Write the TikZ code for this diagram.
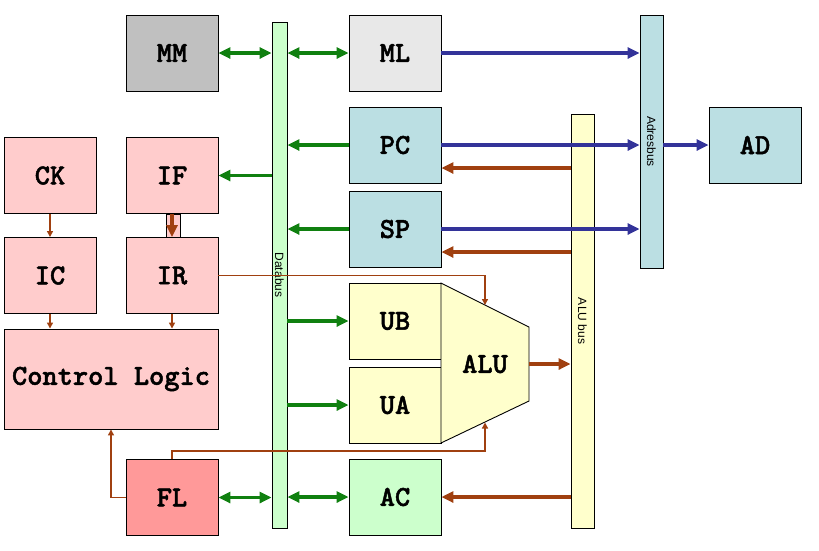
\documentclass[tikz,border=0pt]{standalone}
\usepackage{fontspec}
\setsansfont{Liberation Sans}
\newfontfamily\boxfont[FakeBold=1.6]{lmmonolt10-bold.otf}
\usetikzlibrary{arrows.meta}
\definecolor{gr}{RGB}{16,128,16}
\definecolor{bl}{RGB}{51,51,153}
\definecolor{br}{RGB}{160,64,16}
\definecolor{mmgray}{RGB}{192,192,192}
\definecolor{mlgray}{RGB}{232,232,232}
\definecolor{lblue}{RGB}{187,223,227}
\definecolor{lpink}{RGB}{255,204,204}
\definecolor{dpink}{RGB}{255,153,153}
\definecolor{lgreen}{RGB}{204,255,204}
\definecolor{lyel}{RGB}{255,255,204}
\tikzset{
  box/.style={draw=black, line width=0.9pt, minimum width=92pt, minimum height=76pt, inner sep=0pt, font=\fontsize{29}{29}\selectfont\boxfont},
  bus/.style={draw=black, line width=0.9pt, inner sep=0pt},
  buslabel/.style={rotate=-90, font=\fontsize{12}{12}\selectfont\sffamily},
  garr/.style={draw=gr, line width=3.5pt, -{Triangle[length=12pt,width=11pt]}},
  gdbl/.style={draw=gr, line width=3.5pt, {Triangle[length=12pt,width=11pt]}-{Triangle[length=12pt,width=11pt]}},
  barr/.style={draw=bl, line width=3.8pt, -{Triangle[length=12pt,width=11pt]}},
  rarr/.style={draw=br, line width=3.8pt, -{Triangle[length=12pt,width=11pt]}},
  tarr/.style={draw=br, line width=1.4pt, -{Triangle[length=6pt,width=6pt]}},
}
\begin{document}
\begin{tikzpicture}[x=1pt,y=-1pt]
\useasboundingbox (0,0) rectangle (819,550);
% buses
\node[bus, fill=lgreen, minimum width=15pt, minimum height=506pt] (db) at (279.5,275) {};
\node[buslabel] (dbl) at (db.center) {Databus};
\node[bus, fill=lblue, minimum width=23pt, minimum height=253pt] (ab) at (651.5,141.5) {};
\node[buslabel] (abl) at (ab.center) {Adresbus};
\node[bus, fill=lyel, minimum width=23pt, minimum height=414pt] (alub) at (582.5,321) {};
\node[buslabel] (alubl) at (alub.center) {ALU bus};
% boxes
\node[box, fill=mmgray] (mm) at (172,53) {MM};
\node[box, fill=mlgray] (ml) at (395,53) {ML};
\node[box, fill=lblue] (pc) at (395,145) {PC};
\node[box, fill=lblue] (sp) at (395,229) {SP};
\node[box, fill=lyel] (ub) at (395,321) {UB};
\node[box, fill=lyel] (ua) at (395,405) {UA};
\node[box, fill=lgreen] (ac) at (395,497) {AC};
\node[box, fill=lpink] (ck) at (50,175.5) {CK};
\node[box, fill=lpink] (if) at (172,175.5) {IF};
\node[box, fill=lpink] (ic) at (50,275.5) {IC};
\node[box, fill=lpink] (ir) at (172,275.5) {IR};
\node[box, fill=lpink, minimum width=214pt, minimum height=100pt] (cl) at (111,379) {Control Logic};
\node[box, fill=dpink] (fl) at (172,497.5) {FL};
\node[box, fill=lblue] (ad) at (755,145) {AD};
% ALU
\coordinate (alu1) at (441,283);
\coordinate (alu2) at (529,327);
\coordinate (alu3) at (529,401);
\coordinate (alu4) at (441,443);
\draw[line width=0.9pt, fill=lyel] (alu1) -- (alu2) -- (alu3) -- (alu4) -- cycle;
\node[font=\fontsize{29}{29}\selectfont\boxfont] (alu) at (485,364) {ALU};
\coordinate (aluout) at (529,364);
\coordinate (alutop) at (485,305);
\coordinate (alubot) at (485,422.5);
% IF-IR link
\node[draw=black, line width=0.9pt, fill=lpink, minimum width=14pt, minimum height=23pt, inner sep=0pt] (ifir) at (173,225.5) {};
\draw[rarr] (if.south) -- (ir.north);
% green arrows
\draw[gdbl] (mm.east) -- (mm.east -| db.west);
\draw[gdbl] (ml.west -| db.east) -- (ml.west);
\draw[garr] (if.east -| db.west) -- (if.east);
\draw[garr] (pc.west) -- (pc.west -| db.east);
\draw[garr] (sp.west) -- (sp.west -| db.east);
\draw[garr] (ub.west -| db.east) -- (ub.west);
\draw[garr] (ua.west -| db.east) -- (ua.west);
\draw[gdbl] (fl.east) -- (fl.east -| db.west);
\draw[gdbl] (ac.west -| db.east) -- (ac.west);
% blue arrows
\draw[barr] (ml.east) -- (ml.east -| ab.west);
\draw[barr] (pc.east) -- (pc.east -| ab.west);
\draw[barr] (sp.east) -- (sp.east -| ab.west);
\draw[barr] (ab.east |- ad.west) -- (ad.west);
% brown arrows
\coordinate (pcr) at ([yshift=-23pt]pc.east);
\coordinate (spr) at ([yshift=-23pt]sp.east);
\draw[rarr] (pcr -| alub.west) -- (pcr);
\draw[rarr] (spr -| alub.west) -- (spr);
\draw[rarr] (aluout) -- (aluout -| alub.west);
\draw[rarr] (alub.west |- ac.east) -- (ac.east);
% thin control lines
\draw[tarr] (ck.south) -- (ic.north);
\draw[tarr] (ic.south) -- (ic.south |- cl.north);
\draw[tarr] (ir.south) -- (ir.south |- cl.north);
\draw[tarr] (ir.east) -| (alutop);
\coordinate (flk) at (172,451);
\draw[tarr] (fl.north) -- (flk) -| (alubot);
\draw[tarr] (fl.west) -| (cl.south);
\end{tikzpicture}
\end{document}
